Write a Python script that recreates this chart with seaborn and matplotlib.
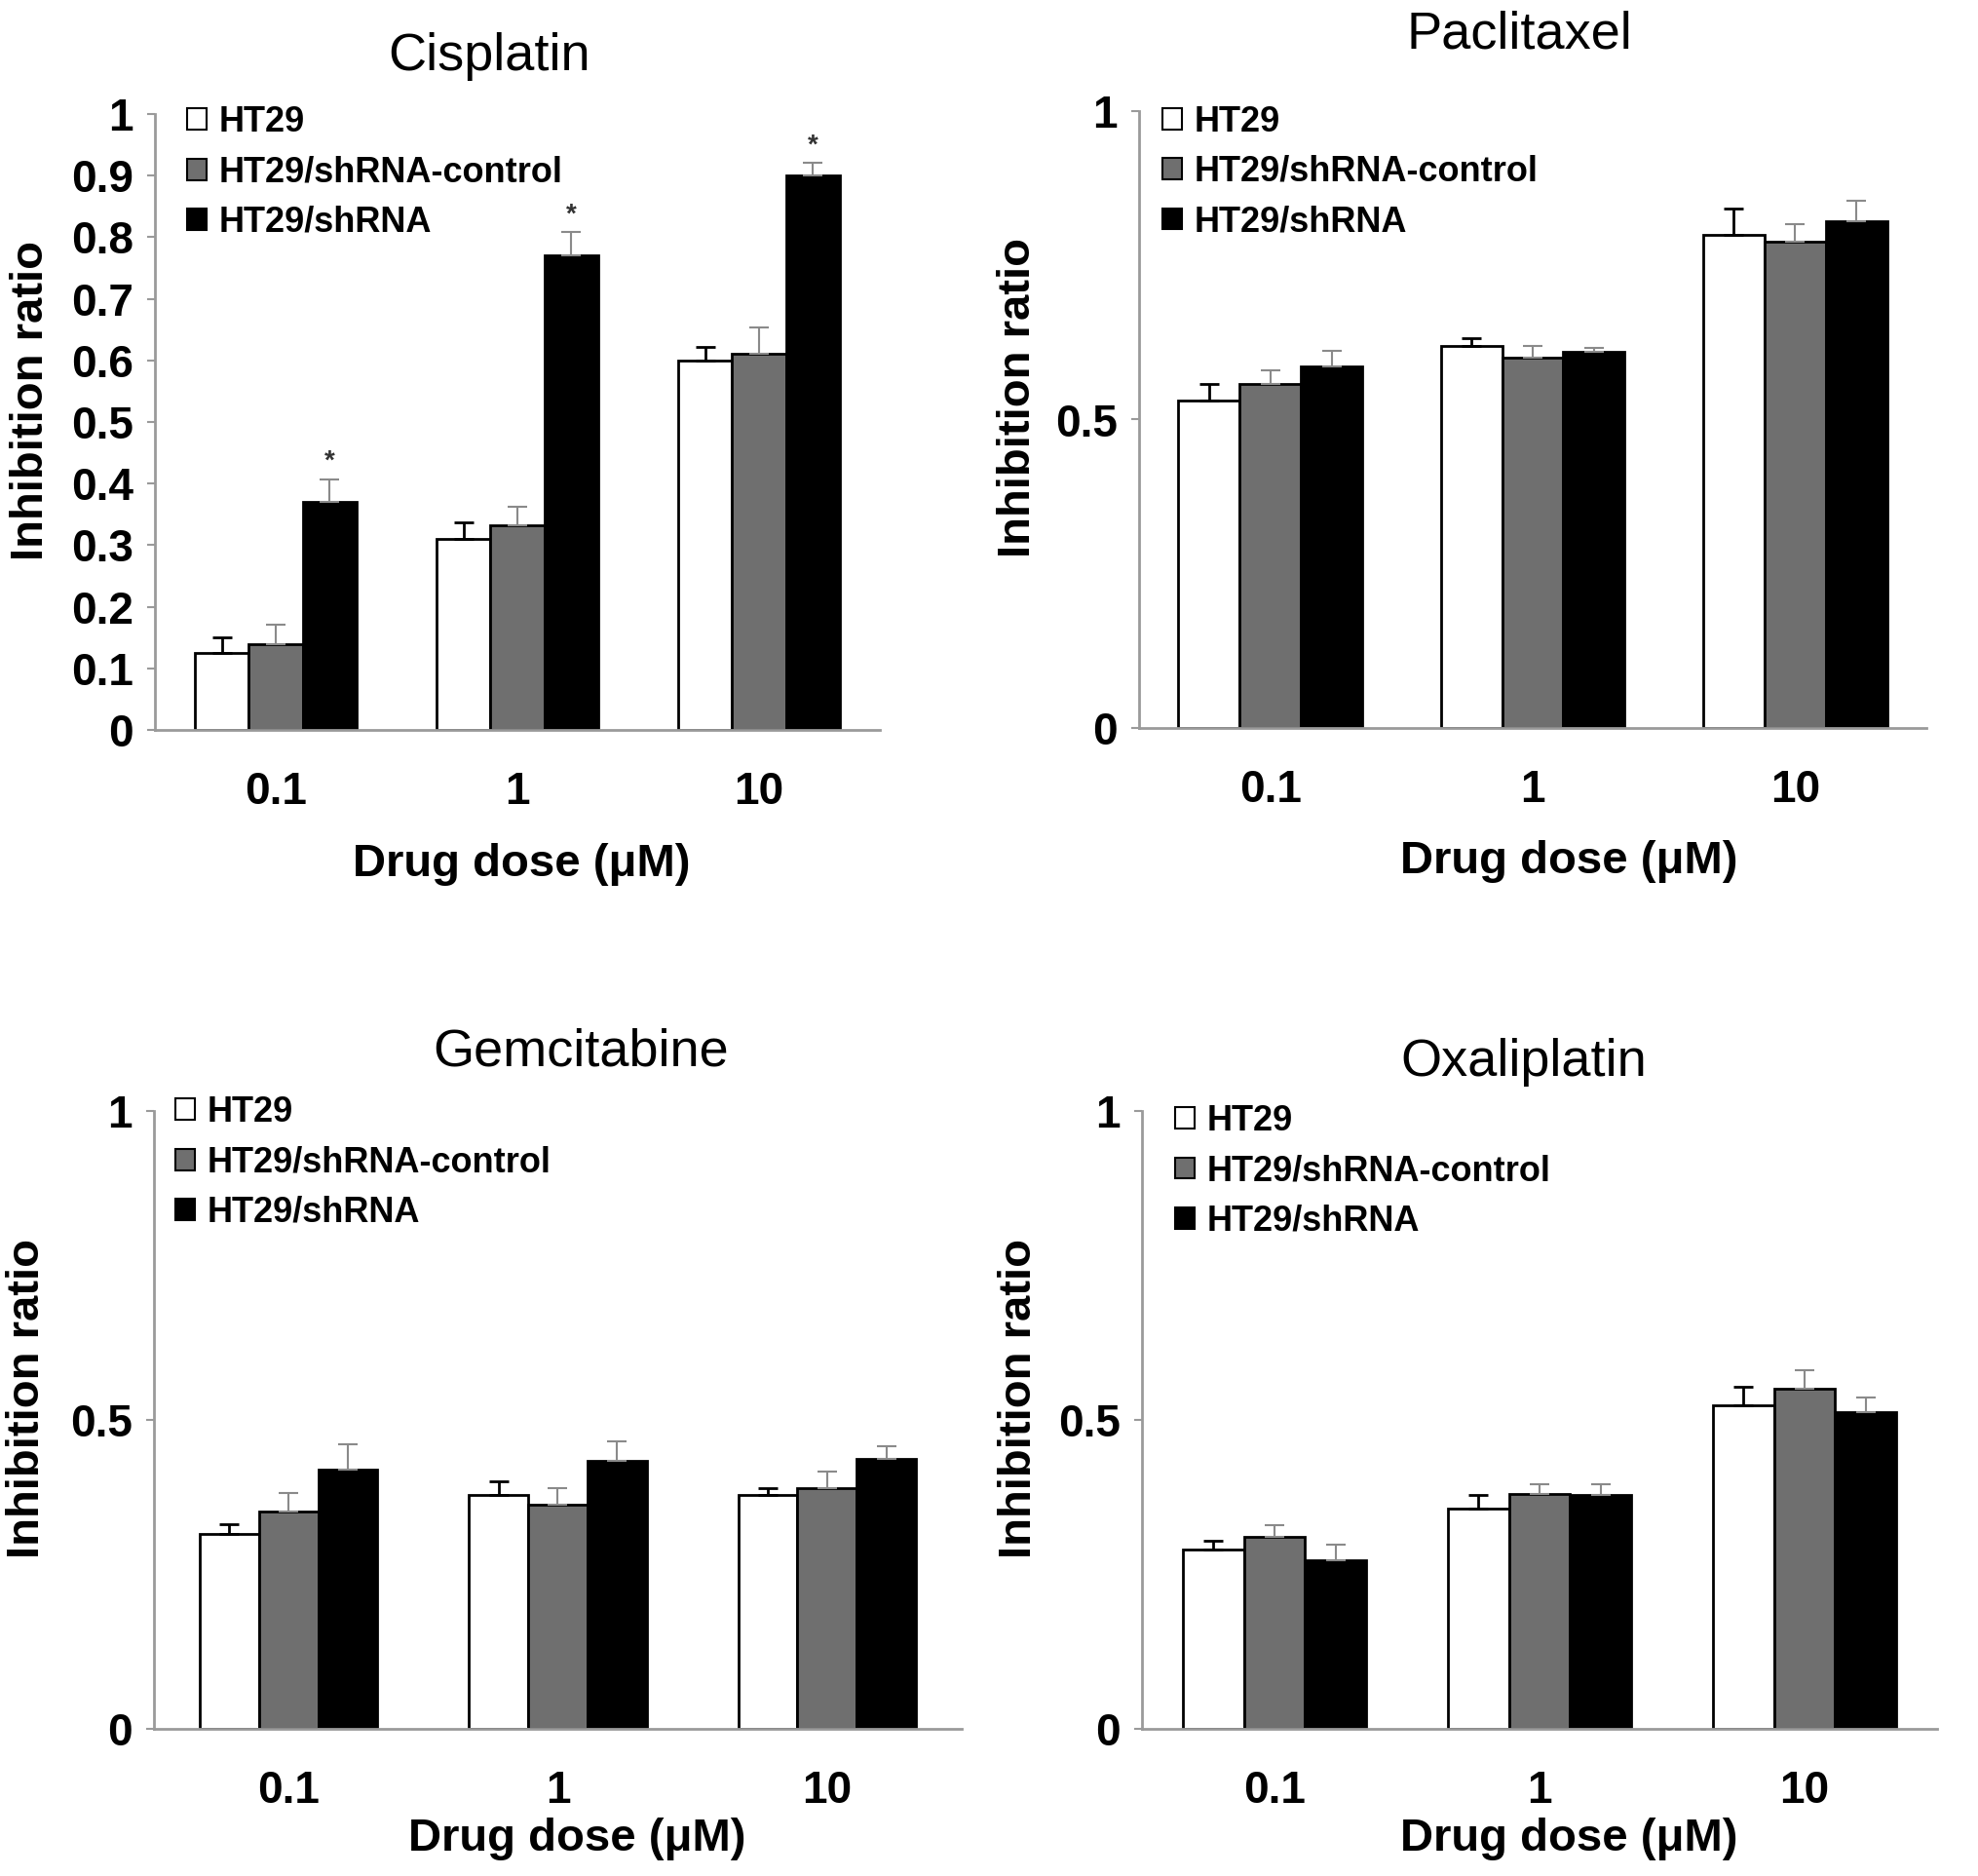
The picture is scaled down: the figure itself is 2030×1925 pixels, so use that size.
import pandas as pd
import matplotlib
matplotlib.use('Agg')
import matplotlib.pyplot as plt
import seaborn as sns

# doses and cell lines
doses = ['0.1', '1', '10']
groups = ['HT29', 'HT29/shRNA-control', 'HT29/shRNA']
colors = ['white', '#6f6f6f', 'black']
err_colors = ['black', '#8a8a8a', '#8a8a8a']

# inhibition ratio per group, per dose (0.1, 1, 10)
cis_ht29 = [0.125, 0.31, 0.60]
cis_ctrl = [0.14, 0.333, 0.61]
cis_sh = [0.37, 0.77, 0.90]
cis_ht29_err = [0.025, 0.027, 0.022]
cis_ctrl_err = [0.031, 0.029, 0.043]
cis_sh_err = [0.037, 0.038, 0.021]

pac_ht29 = [0.531, 0.620, 0.799]
pac_ctrl = [0.558, 0.600, 0.788]
pac_sh = [0.586, 0.610, 0.822]
pac_ht29_err = [0.027, 0.012, 0.043]
pac_ctrl_err = [0.021, 0.020, 0.029]
pac_sh_err = [0.025, 0.006, 0.033]

gem_ht29 = [0.315, 0.378, 0.378]
gem_ctrl = [0.352, 0.362, 0.389]
gem_sh = [0.420, 0.433, 0.437]
gem_ht29_err = [0.016, 0.022, 0.012]
gem_ctrl_err = [0.030, 0.028, 0.028]
gem_sh_err = [0.041, 0.033, 0.021]

oxa_ht29 = [0.290, 0.357, 0.524]
oxa_ctrl = [0.311, 0.380, 0.551]
oxa_sh = [0.273, 0.378, 0.512]
oxa_ht29_err = [0.015, 0.022, 0.029]
oxa_ctrl_err = [0.018, 0.016, 0.029]
oxa_sh_err = [0.025, 0.018, 0.024]

# significance marks (only cisplatin shRNA)
cis_stars = [True, True, True]

sns.set_style('white')
plt.rcParams['font.family'] = ['Liberation Sans', 'DejaVu Sans']
plt.rcParams['text.color'] = 'black'
plt.rcParams['axes.labelcolor'] = 'black'
plt.rcParams['xtick.labelcolor'] = 'black'
plt.rcParams['ytick.labelcolor'] = 'black'

fig = plt.figure(figsize=(20.31, 19.25), dpi=100)


def make_df(a, b, c):
    rows = []
    for g, vals in zip(groups, [a, b, c]):
        for d, v in zip(doses, vals):
            rows.append({'dose': d, 'group': g, 'ratio': v})
    return pd.DataFrame(rows)


panels = [
    dict(title='Cisplatin', rect=[159, 117, 903, 749],
         vals=(cis_ht29, cis_ctrl, cis_sh), errs=(cis_ht29_err, cis_ctrl_err, cis_sh_err),
         yticks=[0, 0.1, 0.2, 0.3, 0.4, 0.5, 0.6, 0.7, 0.8, 0.9, 1.0],
         yticklabels=['0', '0.1', '0.2', '0.3', '0.4', '0.5', '0.6', '0.7', '0.8', '0.9', '1'],
         width=0.67, title_xy=(502, 58), leg=(0.044, 1.014), ylab=(32, 411), xlab=(535, 887),
         stars=cis_stars),
    dict(title='Paclitaxel', rect=[1169, 114, 1977, 747],
         vals=(pac_ht29, pac_ctrl, pac_sh), errs=(pac_ht29_err, pac_ctrl_err, pac_sh_err),
         yticks=[0, 0.5, 1.0], yticklabels=['0', '0.5', '1'],
         width=0.70, title_xy=(1559, 35), leg=(0.030, 1.010), ylab=(1045, 408), xlab=(1610, 884),
         stars=None),
    dict(title='Gemcitabine', rect=[158, 1140, 987, 1774],
         vals=(gem_ht29, gem_ctrl, gem_sh), errs=(gem_ht29_err, gem_ctrl_err, gem_sh_err),
         yticks=[0, 0.5, 1.0], yticklabels=['0', '0.5', '1'],
         width=0.66, title_xy=(596, 1079), leg=(0.027, 1.025), ylab=(28, 1435), xlab=(592, 1887),
         stars=None),
    dict(title='Oxaliplatin', rect=[1172, 1140, 1988, 1774],
         vals=(oxa_ht29, oxa_ctrl, oxa_sh), errs=(oxa_ht29_err, oxa_ctrl_err, oxa_sh_err),
         yticks=[0, 0.5, 1.0], yticklabels=['0', '0.5', '1'],
         width=0.69, title_xy=(1564, 1090), leg=(0.042, 1.011), ylab=(1046, 1435), xlab=(1610, 1887),
         stars=None),
]

W, H = 2031, 1925
spine_col = '#9a9a9a'

for p in panels:
    x0, y0, x1, y1 = p['rect']
    ax = fig.add_axes([x0 / W, 1 - y1 / H, (x1 - x0) / W, (y1 - y0) / H])
    df = make_df(*p['vals'])
    sns.barplot(data=df, x='dose', y='ratio', hue='group', order=doses, hue_order=groups,
                palette=colors, width=p['width'], edgecolor='black', linewidth=2,
                errorbar=None, saturation=1, ax=ax)

    bar_conts = list(ax.containers)
    for i, cont in enumerate(bar_conts):
        for j, bar in enumerate(cont):
            xc = bar.get_x() + bar.get_width() / 2
            h = bar.get_height()
            e = p['errs'][i][j]
            ax.errorbar(xc, h, yerr=[[0], [e]], fmt='none', ecolor=err_colors[i],
                        elinewidth=2 if i == 0 else 1.5, capsize=7, capthick=2 if i == 0 else 1.5,
                        zorder=1)
            if p['stars'] is not None and i == 2 and p['stars'][j]:
                ax.text(xc, h + e + 0.028, '*', ha='center', va='center',
                        fontsize=20, fontweight='bold', color='#333333')

    ax.set_xlim(-0.5, 2.5)
    ax.set_ylim(0, 1)
    ax.set_yticks(p['yticks'])
    ax.set_yticklabels(p['yticklabels'], fontsize=33, fontweight='bold')
    ax.set_xticks([0, 1, 2])
    ax.set_xticklabels(doses, fontsize=33, fontweight='bold')
    ax.set_xticks([-0.5, 0.5, 1.5, 2.5], minor=True)
    ax.tick_params(axis='x', which='major', length=0, pad=30)
    ax.tick_params(axis='x', which='minor', length=13, width=1.5, color=spine_col, direction='out')
    ax.tick_params(axis='y', which='major', length=6, width=1.5, color=spine_col,
                   direction='out', pad=10, left=True)

    sns.despine(ax=ax)
    for s in ['left', 'bottom']:
        ax.spines[s].set_color(spine_col)
        ax.spines[s].set_linewidth(2)

    # axis labels
    ax.set_ylabel('Inhibition ratio', fontsize=34, fontweight='bold')
    ax.yaxis.label.set_va('center')
    ax.yaxis.set_label_coords((p['ylab'][0] - x0) / (x1 - x0), (y1 - p['ylab'][1]) / (y1 - y0))
    ax.set_xlabel('Drug dose (\u03bcM)', fontsize=34, fontweight='bold')
    ax.xaxis.label.set_va('center')
    ax.xaxis.set_label_coords((p['xlab'][0] - x0) / (x1 - x0), (y1 - p['xlab'][1]) / (y1 - y0))

    tx, ty = p['title_xy']
    fig.text(tx / W, 1 - ty / H, p['title'], ha='center', va='center', fontsize=39, color='black')

    handles, labels = ax.get_legend_handles_labels()
    leg = ax.legend(handles, labels, loc='upper left', bbox_to_anchor=p['leg'], frameon=False,
                    prop={'size': 26, 'weight': 'bold'}, handlelength=0.55, handleheight=0.55,
                    handletextpad=0.35, labelspacing=0.45, borderpad=0, borderaxespad=0)
    for hp in leg.legend_handles:
        hp.set_linewidth(1.5)

fig.savefig('out.png', dpi=100, facecolor='white')
